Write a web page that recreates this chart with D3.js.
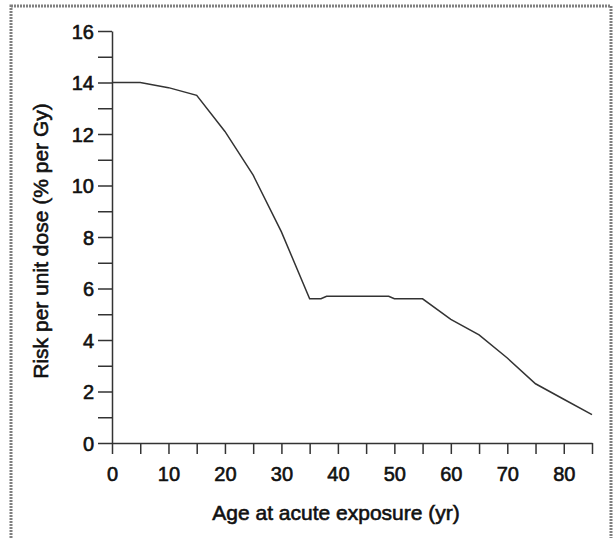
<!DOCTYPE html>
<meta charset="utf-8">
<script src="https://d3js.org/d3.v7.min.js"></script>
<style>
  body { margin: 0; background: #fff; }
  text { font-family: "Liberation Sans", Arial, sans-serif; fill: #111; }
</style>
<div id="my_dataviz"></div>
<script>

// data
const ages = [0, 5, 10, 15, 20, 25, 30, 35, 37, 38, 49, 50, 55, 60, 65, 70, 75, 80, 85];
const risk = [14.0, 14.0, 13.8, 13.5, 12.1, 10.4, 8.2, 5.6, 5.6, 5.7, 5.7, 5.6, 5.6, 4.8, 4.2, 3.3, 2.3, 1.7, 1.1];
const xTicks = [0, 5, 10, 15, 20, 25, 30, 35, 40, 45, 50, 55, 60, 65, 70, 75, 80, 85];
const yTicks = d3.range(0, 17);
const xLabel = "Age at acute exposure (yr)";
const yLabel = "Risk per unit dose (% per Gy)";

const W = 615, H = 538;
const margin = {top: 31, left: 112, right: 23, bottom: 95};
const width = W - margin.left - margin.right,
    height = H - margin.top - margin.bottom;

const root = d3.select("#my_dataviz")
    .append("svg")
    .attr("width", W)
    .attr("height", H);

// dotted outer frame
root.append("rect")
    .attr("x", 11).attr("y", 6)
    .attr("width", 600).attr("height", 560)
    .attr("fill", "none")
    .attr("stroke", "#808080")
    .attr("stroke-width", 3)
    .attr("stroke-dasharray", "2,1");

const svg = root.append("g")
    .attr("transform", `translate(${margin.left},${margin.top})`);

const x = d3.scaleLinear().domain([0, 85]).range([0, width]);
const y = d3.scaleLinear().domain([0, 16]).range([height, 0]);

// x axis
const gx = svg.append("g")
    .attr("transform", `translate(0,${height})`)
    .call(d3.axisBottom(x)
        .tickValues(xTicks)
        .tickSize(11)
        .tickPadding(13)
        .tickSizeOuter(0)
        .tickFormat(d => d % 10 === 0 ? d : ""));

// y axis
const gy = svg.append("g")
    .call(d3.axisLeft(y)
        .tickValues(yTicks)
        .tickSize(14)
        .tickPadding(4)
        .tickSizeOuter(0)
        .tickFormat(d => d % 2 === 0 ? d : ""));

[gx, gy].forEach(g => {
  g.select(".domain").attr("stroke", "#333").attr("stroke-width", 1.5);
  g.selectAll(".tick line").attr("stroke", "#333").attr("stroke-width", 1.5);
  g.selectAll(".tick text")
      .style("font-size", "20px")
      .attr("fill", "#111")
      .attr("stroke", "#111")
      .attr("stroke-width", 0.6);
});
gy.selectAll(".tick text").attr("dy", "0.36em");

// the curve
svg.append("path")
    .datum(ages.map((a, i) => [a, risk[i]]))
    .attr("fill", "none")
    .attr("stroke", "#333")
    .attr("stroke-width", 1.5)
    .attr("d", d3.line()
        .x(d => x(d[0]))
        .y(d => y(d[1])));

// axis titles
root.append("text")
    .attr("x", 336).attr("y", 520)
    .attr("text-anchor", "middle")
    .style("font-size", "21px")
    .attr("stroke", "#111").attr("stroke-width", 0.6)
    .text(xLabel);

root.append("text")
    .attr("transform", "translate(48,241) rotate(-90)")
    .attr("text-anchor", "middle")
    .style("font-size", "21px")
    .attr("stroke", "#111").attr("stroke-width", 0.6)
    .text(yLabel);

</script>
